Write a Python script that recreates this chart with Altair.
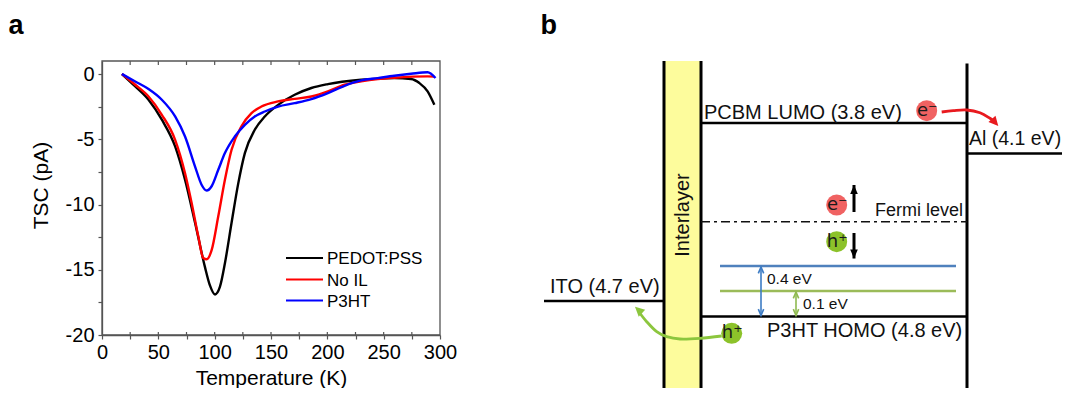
import altair as alt
import pandas as pd

FONT = "Liberation Sans"

# ---------------- panel a : TSC spectra ----------------
series_names = ["PEDOT:PSS", "No IL", "P3HT"]
series_colors = ["#000000", "#ff0000", "#0000ff"]

temp_pedot = [17.7, 29.5, 41.3, 53.1, 64.9, 73.7, 82.6, 91.4, 95.8, 100.3, 104.7, 109.1, 115.0,
              120.9, 126.8, 135.6, 144.5, 156.3, 171.0, 185.8, 200.5, 230.0, 259.5, 274.3, 281.7,
              289.0, 295.0]
tsc_pedot = [0.0, -0.95, -1.97, -3.5, -5.55, -8.1, -11.4, -14.8, -16.2, -16.9, -16.3, -14.5, -11.4,
             -8.4, -6.06, -4.27, -3.25, -2.36, -1.59, -1.07, -0.77, -0.44, -0.31, -0.38, -0.69,
             -1.33, -2.36]

temp_noil = [17.7, 29.5, 41.3, 53.1, 64.9, 73.7, 79.6, 85.5, 89.9, 92.9, 97.3, 103.2, 109.1, 115.0,
             123.8, 132.7, 141.5, 156.3, 171.0, 185.8, 200.5, 215.3, 230.0, 244.8, 259.5, 289.0,
             295.0]
tsc_noil = [0.0, -0.82, -1.72, -3.12, -5.04, -7.6, -9.9, -12.46, -14.1, -14.2, -13.5, -10.9, -8.1,
            -5.8, -4.0, -3.0, -2.49, -2.1, -1.9, -1.72, -1.33, -0.82, -0.56, -0.38, -0.28, -0.18,
            -0.2]

temp_p3ht = [17.7, 29.5, 41.3, 53.1, 64.9, 73.7, 82.6, 88.5, 92.9, 97.3, 103.2, 109.1, 117.9, 126.8,
             135.6, 144.5, 156.3, 171.0, 185.8, 200.5, 215.3, 230.0, 244.8, 259.5, 274.3, 289.0,
             296.0]
tsc_p3ht = [0.0, -0.57, -1.15, -1.97, -3.25, -4.79, -7.09, -8.5, -8.93, -8.6, -7.34, -6.06, -4.79,
            -3.89, -3.25, -2.87, -2.49, -2.23, -1.92, -1.46, -0.9, -0.49, -0.31, -0.13, 0.02, 0.14,
            -0.3]

x_tick_values = [0, 25, 50, 75, 100, 125, 150, 175, 200, 225, 250, 275, 300]
y_tick_values = [-20, -17.5, -15, -12.5, -10, -7.5, -5, -2.5, 0]

# ---------------- panel b : energy diagram (diagram units) ----------------
level_labels = ["PCBM LUMO (3.8 eV)", "Al (4.1 eV)", "ITO (4.7 eV)", "P3HT HOMO (4.8 eV)"]
level_x1 = [701, 967, 544, 701]
level_x2 = [967, 1070, 664, 967]
level_y = [123, 153.5, 301, 316.5]
level_label_x = [704, 969, 550, 767]
level_label_y = [119, 145, 293, 337]
level_label_size = [20, 19.5, 20, 20]

wall_x = [664, 701, 967]
wall_top = [61, 61, 63.5]
wall_bottom = [396, 396, 396]

interlayer_x = [664]
interlayer_x2 = [701]
interlayer_top = [61]
interlayer_bottom = [396]

fermi_x1 = [701]
fermi_x2 = [967]
fermi_y = [221.7]

trap_colors = ["#4f81bd", "#9bbb59"]
trap_x1 = [720, 720]
trap_x2 = [956, 956]
trap_y = [266, 291]

small_labels = ["Fermi level", "0.4 eV", "0.1 eV"]
small_x = [875, 767, 803]
small_y = [216, 283.5, 309]
small_size = [18, 15.5, 15.5]

carrier_labels = ["e⁻", "e⁻", "h⁺", "h⁺"]
carrier_x = [926.7, 836.7, 836.7, 731.7]
carrier_y = [110.7, 205.0, 241.7, 333.3]
carrier_fill = ["#f06262", "#f06262", "#8cc22a", "#8cc22a"]

drift_x = [854, 854]
drift_from = [212, 233]
drift_to = [185, 258.5]
drift_angle = [0, 180]

gap_colors = ["#3d7cc4", "#8fba50"]
gap_x = [761, 796]
gap_top = [267, 292]
gap_bottom = [315.5, 315.5]

red_arrow_x = [941.7, 953.3, 966.7, 980.0, 990.0, 995.5]
red_arrow_y = [112.0, 110.7, 110.0, 112.7, 118.3, 122.5]
red_tip = (998.3, 126.0, 138)

green_arrow_x = [721.7, 700.0, 680.0, 666.7, 656.7, 646.7, 639.0]
green_arrow_y = [336.0, 338.3, 339.0, 336.7, 331.7, 321.7, 312.0]
green_tip = (635.0, 306.7, 313)

panel_letters = ["a", "b"]
panel_letter_x = [8.5, 540.5]
panel_letter_y = [34, 34]

# ---------------- geometry ----------------
PW, PH = 338, 274
PAD = {"left": 94, "top": 53, "right": 1054 - 94 - PW, "bottom": 380 - 53 - PH}

sx_a = alt.Scale(domain=[0, 300], nice=False, zero=False)
sy_a = alt.Scale(domain=[-20, 1], nice=False, zero=False)

AX = "#555555"

x_axis = alt.Axis(values=x_tick_values, labelExpr="datum.value % 50 == 0 ? toString(datum.value) : ''",
                  title="Temperature (K)", orient="bottom", tickSize=4, labelPadding=3,
                  labelFlush=False, labelOverlap=False, titleY=49, titleBaseline="alphabetic",
                  grid=False)
y_axis = alt.Axis(values=y_tick_values, labelExpr="datum.value % 5 == 0 ? toString(datum.value) : ''",
                  title="TSC (pA)", orient="left", tickSize=4, labelPadding=4,
                  labelOverlap=False, titleX=-61, titleY=PH / 2 - 13, titleAngle=270,
                  titleBaseline="middle", titleAlign="center", grid=False)


def curve_layer(temps, vals, color):
    df = pd.DataFrame({"T": temps, "TSC": vals})
    return alt.Chart(df).mark_line(interpolate="monotone", color=color, strokeWidth=2.4).encode(
        x=alt.X("T:Q", scale=sx_a, axis=x_axis),
        y=alt.Y("TSC:Q", scale=sy_a, axis=y_axis),
    )


frame = alt.Chart(pd.DataFrame({"k": [0]})).mark_rect(
    fillOpacity=0, stroke=AX, strokeWidth=1.3).encode(
    x=alt.value(0), x2=alt.value(PW), y=alt.value(0), y2=alt.value(PH))

inner_ticks_df = pd.DataFrame({"T": x_tick_values[1:-1]})
top_ticks = alt.Chart(inner_ticks_df).mark_rule(color=AX, strokeWidth=1.2).encode(
    x=alt.X("T:Q", scale=sx_a, axis=x_axis), y=alt.value(0), y2=alt.value(4))
bottom_ticks = alt.Chart(inner_ticks_df).mark_rule(color=AX, strokeWidth=1.2).encode(
    x=alt.X("T:Q", scale=sx_a, axis=x_axis), y=alt.value(PH - 3), y2=alt.value(PH))

legend_layers = []
legend_rows = [197, 218.5, 239.5]
for name, col, ry in zip(series_names, series_colors, legend_rows):
    ldf = pd.DataFrame({"name": [name]})
    legend_layers.append(alt.Chart(ldf).mark_rule(color=col, strokeWidth=2.2).encode(
        x=alt.value(184), x2=alt.value(221), y=alt.value(ry)))
    legend_layers.append(alt.Chart(ldf).mark_text(
        align="left", baseline="middle", font=FONT, fontSize=17, color="#000").encode(
        x=alt.value(225), y=alt.value(ry + 1), text="name:N"))

panel_a = alt.layer(
    curve_layer(temp_pedot, tsc_pedot, series_colors[0]),
    curve_layer(temp_noil, tsc_noil, series_colors[1]),
    curve_layer(temp_p3ht, tsc_p3ht, series_colors[2]),
    top_ticks, bottom_ticks, frame,
    *legend_layers,
)

# ---------------- panel b ----------------
sx_b = alt.Scale(domain=[0, 1070], range=[-102, 968], nice=False, zero=False)
sy_b = alt.Scale(domain=[0, 396], range=[-61, 335], nice=False, zero=False)


def X(f):
    return alt.X(f, type="quantitative", scale=sx_b, axis=None)


def Y(f):
    return alt.Y(f, type="quantitative", scale=sy_b, axis=None)


interlayer = alt.Chart(pd.DataFrame({"x": interlayer_x, "x2": interlayer_x2, "y": interlayer_top,
                                     "y2": interlayer_bottom})).mark_rect(
    color="#fdfc9c").encode(x=X("x"), x2="x2", y=Y("y"), y2="y2")

walls = alt.Chart(pd.DataFrame({"x": wall_x, "y": wall_top, "y2": wall_bottom})).mark_rule(
    color="#000", strokeWidth=3).encode(x=X("x"), y=Y("y"), y2="y2")

levels_df = pd.DataFrame({"label": level_labels, "x": level_x1, "x2": level_x2, "y": level_y,
                          "lx": level_label_x, "ly": level_label_y, "s": level_label_size})
levels = alt.Chart(levels_df).mark_rule(color="#000", strokeWidth=2.6).encode(
    x=X("x"), x2="x2", y=Y("y"))
level_text = alt.Chart(levels_df).mark_text(
    align="left", baseline="alphabetic", font=FONT, color="#111").encode(
    x=X("lx"), y=Y("ly"), text="label:N", size=alt.Size("s:Q", scale=None))

fermi = alt.Chart(pd.DataFrame({"x": fermi_x1, "x2": fermi_x2, "y": fermi_y})).mark_rule(
    color="#111", strokeWidth=1.5, strokeDash=[9, 4, 3, 4]).encode(x=X("x"), x2="x2", y=Y("y"))

traps = alt.Chart(pd.DataFrame({"x": trap_x1, "x2": trap_x2, "y": trap_y, "c": trap_colors})).mark_rule(
    strokeWidth=2.6).encode(x=X("x"), x2="x2", y=Y("y"), color=alt.Color("c:N", scale=None))

small_text = alt.Chart(pd.DataFrame({"t": small_labels, "x": small_x, "y": small_y,
                                     "s": small_size})).mark_text(
    align="left", baseline="alphabetic", font=FONT, color="#111").encode(
    x=X("x"), y=Y("y"), text="t:N", size=alt.Size("s:Q", scale=None))

interlayer_text = alt.Chart(pd.DataFrame({"t": ["Interlayer"], "x": [682.5], "y": [215]})).mark_text(
    align="center", baseline="middle", angle=270, font=FONT, fontSize=20, color="#111").encode(
    x=X("x"), y=Y("y"), text="t:N")

carriers_df = pd.DataFrame({"t": carrier_labels, "x": carrier_x, "y": carrier_y, "c": carrier_fill})
carrier_dots = alt.Chart(carriers_df).mark_circle(size=440, opacity=1).encode(
    x=X("x"), y=Y("y"), color=alt.Color("c:N", scale=None))
carrier_text = alt.Chart(carriers_df).mark_text(
    align="center", baseline="middle", font="DejaVu Sans", fontSize=18, color="#1a1a1a", dx=0.5).encode(
    x=X("x"), y=Y("y"), text="t:N")

HEAD = "M0,0L1,2L-1,2Z"
HEAD_NARROW = "M0,0L0.85,2L-0.85,2Z"
CHEVRON = "M-0.85,2L0,0L0.85,2"

drift_df = pd.DataFrame({"x": drift_x, "y": drift_from, "y2": drift_to, "a": drift_angle})
drift_shaft = alt.Chart(drift_df).mark_rule(color="#000", strokeWidth=3).encode(
    x=X("x"), y=Y("y"), y2="y2")
drift_head = alt.Chart(drift_df).mark_point(shape=HEAD_NARROW, filled=True, size=80, color="#000",
                                            opacity=1).encode(
    x=X("x"), y=Y("y2"), angle=alt.Angle("a:Q", scale=None))

gap_df = pd.DataFrame({"x": gap_x, "y": gap_top, "y2": gap_bottom, "c": gap_colors})
gap_shaft = alt.Chart(gap_df).mark_rule(strokeWidth=1.6).encode(
    x=X("x"), y=Y("y"), y2="y2", color=alt.Color("c:N", scale=None))
gap_head_top = alt.Chart(gap_df).mark_point(shape=CHEVRON, filled=False, size=40, strokeWidth=1.6,
                                            opacity=1).encode(
    x=X("x"), y=Y("y"), color=alt.Color("c:N", scale=None), angle=alt.value(0))
gap_head_bottom = alt.Chart(gap_df).mark_point(shape=CHEVRON, filled=False, size=40, strokeWidth=1.6,
                                               opacity=1).encode(
    x=X("x"), y=Y("y2"), color=alt.Color("c:N", scale=None), angle=alt.value(180))


def curved_arrow(xs, ys, tip, color):
    df = pd.DataFrame({"x": xs, "y": ys, "i": list(range(len(xs)))})
    line = alt.Chart(df).mark_line(interpolate="cardinal", color=color, strokeWidth=2.8).encode(
        x=X("x"), y=Y("y"), order="i:Q")
    hdf = pd.DataFrame({"x": [tip[0]], "y": [tip[1]], "a": [tip[2]]})
    head = alt.Chart(hdf).mark_point(shape=HEAD, filled=True, size=90, color=color, opacity=1).encode(
        x=X("x"), y=Y("y"), angle=alt.Angle("a:Q", scale=None))
    return [line, head]


letters = alt.Chart(pd.DataFrame({"t": panel_letters, "x": panel_letter_x, "y": panel_letter_y})).mark_text(
    align="left", baseline="alphabetic", font=FONT, fontSize=27, fontWeight="bold", color="#000").encode(
    x=X("x"), y=Y("y"), text="t:N")

panel_b = alt.layer(
    interlayer, walls, levels, fermi, traps, level_text, small_text, interlayer_text,
    drift_shaft, drift_head, gap_shaft, gap_head_top, gap_head_bottom,
    *curved_arrow(red_arrow_x, red_arrow_y, red_tip, "#e81a1f"),
    *curved_arrow(green_arrow_x, green_arrow_y, green_tip, "#8cc63e"),
    carrier_dots, carrier_text, letters,
)

chart = alt.layer(panel_a, panel_b).resolve_scale(x="independent", y="independent").properties(
    width=PW, height=PH, padding=PAD, autosize=alt.AutoSizeParams(type="none"),
).configure_view(stroke=None).configure_axis(
    domainColor=AX, domainWidth=1.3, tickColor=AX, tickWidth=1.2,
    labelFont=FONT, labelFontSize=20, labelColor="#000",
    titleFont=FONT, titleFontSize=21, titleFontWeight="normal", titleColor="#000",
)

chart.save("out.html", embed_options={"renderer": "svg", "actions": False})
